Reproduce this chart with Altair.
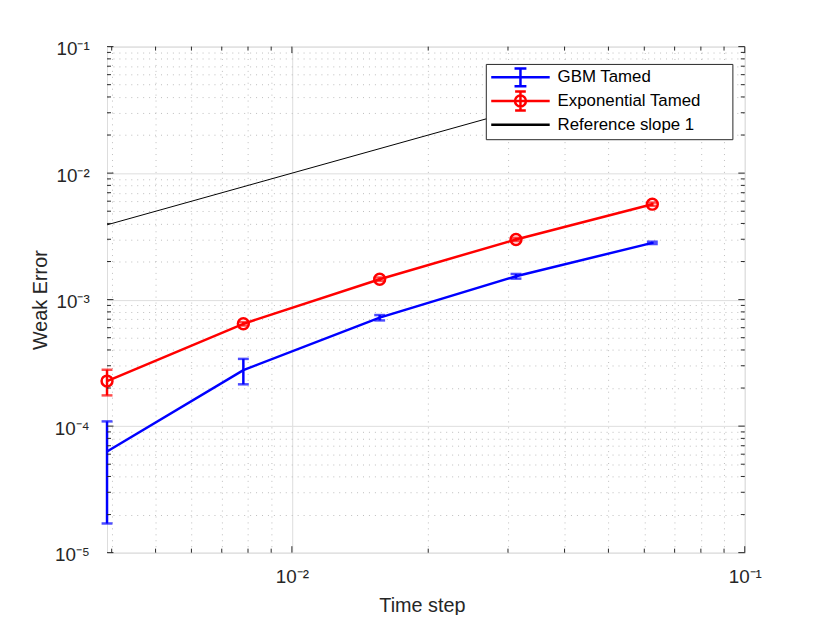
import altair as alt
import pandas as pd

# ---------------- data ----------------
ts = [0.00390625, 0.0078125, 0.015625, 0.03125, 0.0625]
gbm = [6.3e-5, 2.77e-4, 7.2e-4, 1.53e-3, 2.81e-3]
gbm_err = [4.6e-5, 6.3e-5, 3.5e-5, 6.5e-5, 6.0e-5]
expo = [2.27e-4, 6.44e-4, 1.45e-3, 2.99e-3, 5.68e-3]
expo_err = [5.2e-5, 2.0e-5, 4.5e-5, 9.0e-5, 1.7e-4]
ref_x = [0.00390625, 0.0625]
ref_y = [0.0039, 0.0625]
series = ["GBM Tamed", "Exponential Tamed", "Reference slope 1"]
series_colors = ["#0000ff", "#ff0000", "#000000"]

x_major = [0.01, 0.1]
x_major_labels = ["10⁻²", "10⁻¹"]
x_minor = [0.004, 0.005, 0.006, 0.007, 0.008, 0.009,
           0.02, 0.03, 0.04, 0.05, 0.06, 0.07, 0.08, 0.09]
y_major = [1e-5, 1e-4, 1e-3, 1e-2, 1e-1]
y_major_labels = ["10⁻⁵", "10⁻⁴", "10⁻³", "10⁻²", "10⁻¹"]
y_minor = [m * d for d in (1e-5, 1e-4, 1e-3, 1e-2) for m in range(2, 10)]

# ---------------- layout / style ----------------
W, H = 644, 511
FONT = "Liberation Sans"
AXC = "#262626"
LW = 2.5

xscale = alt.Scale(type="log", domain=[0.00390625, 0.1], nice=False)
yscale = alt.Scale(type="log", domain=[1e-5, 1e-1], nice=False)

major_test = "abs(log(datum.value)/LN10 - round(log(datum.value)/LN10)) < 0.001"
grid_dash = {"condition": {"test": major_test, "value": []}, "value": [1, 5]}
grid_color = {"condition": {"test": major_test, "value": "#dedede"}, "value": "#bdbdbd"}


def label_expr(vals, labels):
    parts = [f"datum.value == {v} ? '{l}'" for v, l in zip(vals, labels)]
    return " : ".join(parts) + " : ''"


x_axis = alt.Axis(
    values=sorted(x_major + x_minor), labelExpr=label_expr(x_major, x_major_labels),
    title="Time step", grid=True, gridDash=grid_dash, gridColor=grid_color, gridWidth=1,
    tickSize=0, domain=False, labelFlush=False, labelOverlap=False,
    labelFont=FONT, labelFontSize=19, labelColor=AXC, labelPadding=15,
    titleFont=FONT, titleFontSize=20, titleFontWeight="normal", titleColor=AXC,
    titleX=318, titleY=59, titleBaseline="alphabetic",
)
y_axis = alt.Axis(
    values=sorted(y_major + y_minor), labelExpr=label_expr(y_major, y_major_labels),
    title="Weak Error", grid=True, gridDash=grid_dash, gridColor=grid_color, gridWidth=1,
    tickSize=0, domain=False, labelFlush=False, labelOverlap=False,
    labelFont=FONT, labelFontSize=19, labelColor=AXC, labelPadding=18, labelOffset=2,
    titleFont=FONT, titleFontSize=20, titleFontWeight="normal", titleColor=AXC,
    titleX=-67, titleY=H / 2, titleBaseline="middle", titleAngle=270,
)


def X(f="x"):
    return alt.X(f"{f}:Q", scale=xscale, axis=x_axis)


def Y(f="y"):
    return alt.Y(f"{f}:Q", scale=yscale, axis=y_axis)


ref_df = pd.DataFrame({"x": ref_x, "y": ref_y})
gbm_df = pd.DataFrame({"x": ts, "y": gbm, "e": gbm_err})
gbm_df["lo"] = gbm_df["y"] - gbm_df["e"]
gbm_df["hi"] = gbm_df["y"] + gbm_df["e"]
exp_df = pd.DataFrame({"x": ts, "y": expo, "e": expo_err})
exp_df["lo"] = exp_df["y"] - exp_df["e"]
exp_df["hi"] = exp_df["y"] + exp_df["e"]

layers = [alt.Chart(ref_df).mark_line(color="#000000", strokeWidth=1).encode(x=X(), y=Y())]


def series_layers(df, color, circles):
    out = [
        alt.Chart(df).mark_line(color=color, strokeWidth=LW).encode(x=X(), y=Y()),
        alt.Chart(df).mark_rule(color=color, strokeWidth=LW).encode(
            x=X(), y=Y("lo"), y2="hi:Q"),
        alt.Chart(df).mark_tick(color=color, orient="horizontal", size=11, thickness=LW).encode(
            x=X(), y=Y("lo")),
        alt.Chart(df).mark_tick(color=color, orient="horizontal", size=11, thickness=LW).encode(
            x=X(), y=Y("hi")),
    ]
    if circles:
        out.append(alt.Chart(df).mark_point(shape="circle", filled=False, color=color,
                                            size=121, strokeWidth=LW, opacity=1).encode(
            x=X(), y=Y()))
    return out


layers += series_layers(gbm_df, "#0000ff", False)
layers += series_layers(exp_df, "#ff0000", True)

# inward ticks on all four sides of the box
xmaj = pd.DataFrame({"x": x_major})
xmin = pd.DataFrame({"x": x_minor})
ymaj = pd.DataFrame({"y": y_major})
ymin = pd.DataFrame({"y": y_minor})
for d, L in ((xmaj, 6.5), (xmin, 4)):
    layers.append(alt.Chart(d).mark_rule(color=AXC, strokeWidth=1).encode(
        x=X(), y=alt.value(H), y2=alt.value(H - L)))
    layers.append(alt.Chart(d).mark_rule(color=AXC, strokeWidth=1).encode(
        x=X(), y=alt.value(0), y2=alt.value(L)))
for d, L in ((ymaj, 6.5), (ymin, 4)):
    layers.append(alt.Chart(d).mark_rule(color=AXC, strokeWidth=1).encode(
        y=Y(), x=alt.value(0), x2=alt.value(L)))
    layers.append(alt.Chart(d).mark_rule(color=AXC, strokeWidth=1).encode(
        y=Y(), x=alt.value(W), x2=alt.value(W - L)))

# legend (drawn from a hidden layer); zero-length segments set the
# extent of each entry and widen the frame without drawing anything
ext = "M0,-1.6L0,-1.6M0,1.6L0,1.6M34.0,0L34.0,0"
p_gbm = "M-4.92,0H4.92M0,-1.5V1.5M-1,-1.5H1M-1,1.5H1" + ext
p_exp = ("M-4.92,0H4.92M0,-1.6V1.6M-0.9,-1.6H0.9M-0.9,1.6H0.9"
         "M-0.92,0A0.92,0.92 0 1,0 0.92,0A0.92,0.92 0 1,0 -0.92,0" + ext)
p_ref = "M-4.92,0H4.92M0,-1.6L0,-1.6M0,0.6L0,0.6M34.0,0L34.0,0"
leg_df = pd.DataFrame({"s": series})


def make_legend():
    return alt.Legend(
        title=None, orient="none", legendX=382.5, legendY=17.5, padding=5,
        fillColor="white", strokeColor=AXC, symbolSize=144, symbolOpacity=1,
        symbolFillColor="transparent", symbolOffset=21.5, labelOffset=29, rowPadding=-8.7,
        labelFont=FONT, labelFontSize=17, labelColor="#000000", labelLimit=400,
    )


layers.append(alt.Chart(leg_df).mark_point(filled=False, opacity=0).encode(
    color=alt.Color("s:N", scale=alt.Scale(domain=series, range=series_colors),
                    legend=make_legend()),
    shape=alt.Shape("s:N", scale=alt.Scale(domain=series, range=[p_gbm, p_exp, p_ref]),
                    legend=make_legend()),
    strokeWidth=alt.StrokeWidth("s:N", scale=alt.Scale(domain=series, range=[LW, LW, 1]),
                                legend=make_legend()),
))

chart = alt.layer(*layers).properties(
    width=W, height=H,
    autosize=alt.AutoSizeParams(type="none"),
    padding={"left": 100, "top": 36, "right": 78, "bottom": 60},
).configure_view(stroke=AXC, strokeWidth=1).configure(background="white")

chart.save("out.html", embed_options={"renderer": "svg", "actions": False})
